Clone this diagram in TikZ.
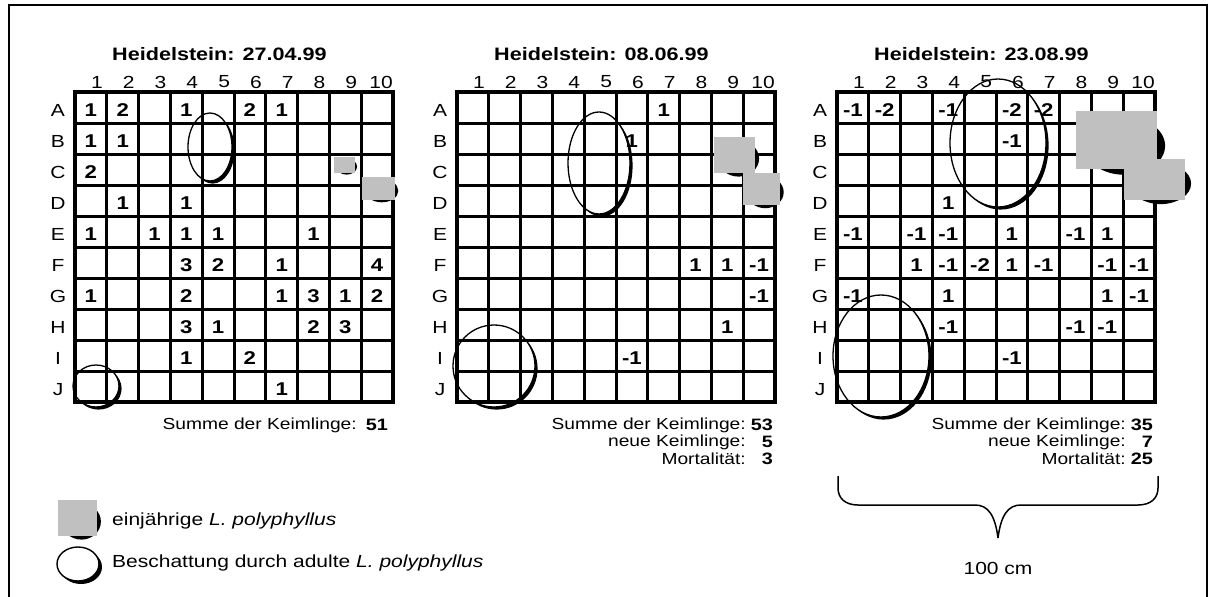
\documentclass[tikz,border=0pt]{standalone}
\usepackage{fontspec}
\setmainfont{Liberation Sans}[FakeStretch=1.2]
\definecolor{seedgray}{RGB}{192,192,192}
\newcommand\adultring[4]{%
  \begin{scope}[even odd rule]
    \clip (#1,#2) ellipse[x radius=#3,y radius=#4] (-10,-10) rectangle (1230,610);
    \fill ({#1+2.6},{#2+2.6}) ellipse[x radius=#3,y radius=#4];
  \end{scope}
  \draw[line width=1.3] (#1,#2) ellipse[x radius=#3,y radius=#4];}
\newcommand\seedling[4]{%
  \fill ({(#1+#3)/2+0.1*(#3-#1)},{(#2+#4)/2+0.1*(#4-#2)}) ellipse[x radius={0.5*(#3-#1)},y radius={0.5*(#4-#2)}];
  \fill[seedgray] (#1,#2) rectangle (#3,#4);}
\begin{document}
\begin{tikzpicture}[x=1pt,y=-1pt,
  gridin/.style={line width=3},
  gridout/.style={line width=4.5},
  lbl/.style={font=\fontsize{17.5}{19}\selectfont, inner sep=0pt},
  collbl/.style={font=\fontsize{17.5}{19}\selectfont, inner sep=0pt},
  num/.style={font=\bfseries\fontsize{18.5}{20}\selectfont, inner sep=0pt},
  ttl/.style={font=\bfseries\fontsize{18}{20}\selectfont, inner sep=0pt, anchor=west},
  sumlbl/.style={font=\fontsize{16}{18}\selectfont, inner sep=0pt, anchor=east},
  sumnum/.style={font=\bfseries\fontsize{16.5}{18}\selectfont, inner sep=0pt, anchor=east}]
\useasboundingbox (0,0) rectangle (1216,597);
\draw[line width=1.5] (9,597) -- (9,5) -- (1207,5) -- (1207,597);

\foreach \g/\gx/\dd in {1/75/27.04.99, 2/457/08.06.99, 3/837/23.08.99} {
  \foreach \i in {1,...,9} {
    \draw[gridin] ({\gx+31.8*\i},92) -- ({\gx+31.8*\i},402);
    \draw[gridin] (\gx,{92+31*\i}) -- ({\gx+318},{92+31*\i});
  }
  \draw[gridout] (\gx,92) rectangle ({\gx+318},402);
  \node[ttl] (title\g) at ({\gx+37},54) {Heidelstein: \dd};
  \foreach \c in {1,...,9} \node[collbl] (col\g-\c) at ({\gx+31.8*(\c-0.5)+6},82) {\c};
  \node[collbl] (col\g-10) at ({\gx+31.8*9.5+4},82) {10};
  \foreach \r/\L in {1/A,2/B,3/C,4/D,5/E,6/F,7/G,8/H,9/I,10/J}
    \node[lbl] (row\g-\L) at ({\gx-17},{92+31*(\r-0.5)+3}) {\L};
}

% grid 1 numbers
\foreach \c/\r/\t in {1/1/1, 2/1/2, 4/1/1, 6/1/2, 7/1/1,
  1/2/1, 2/2/1, 1/3/2, 2/4/1, 4/4/1,
  1/5/1, 3/5/1, 4/5/1, 5/5/1, 8/5/1,
  4/6/3, 5/6/2, 7/6/1, 10/6/4,
  1/7/1, 4/7/2, 7/7/1, 8/7/3, 9/7/1, 10/7/2,
  4/8/3, 5/8/1, 8/8/2, 9/8/3,
  4/9/1, 6/9/2, 7/10/1}
  \node[num] (a\c-\r) at ({75+31.8*(\c-0.5)},{92+31*(\r-0.5)+3}) {\t};
% grid 2 numbers
\foreach \c/\r/\t in {7/1/1, 6/2/1, 8/6/1, 9/6/1, 10/6/-1, 10/7/-1, 9/8/1, 6/9/-1}
  \node[num] (b\c-\r) at ({457+31.8*(\c-0.5)},{92+31*(\r-0.5)+3}) {\t};
% grid 3 numbers
\foreach \c/\r/\t in {1/1/-1, 2/1/-2, 4/1/-1, 6/1/-2, 7/1/-2,
  6/2/-1, 4/4/1,
  1/5/-1, 3/5/-1, 4/5/-1, 6/5/1, 8/5/-1, 9/5/1,
  3/6/1, 4/6/-1, 5/6/-2, 6/6/1, 7/6/-1, 9/6/-1, 10/6/-1,
  1/7/-1, 4/7/1, 9/7/1, 10/7/-1,
  4/8/-1, 8/8/-1, 9/8/-1, 6/9/-1}
  \node[num] (c\c-\r) at ({837+31.8*(\c-0.5)},{92+31*(\r-0.5)+3}) {\t};

% shading by adult plants
\adultring{210}{147}{22}{34}
\adultring{96}{386}{23}{21}
\adultring{599}{163}{31}{51}
\adultring{494}{366}{41}{41}
\adultring{998}{143}{48}{64}
\adultring{881}{356}{48}{61}

% one-year seedlings
\seedling{334}{157}{355}{173}
\seedling{362}{177}{395}{200}
\seedling{714}{137}{755}{173}
\seedling{743}{173}{780}{205}
\seedling{1076}{111}{1157}{169}
\seedling{1124}{159}{1185}{200}

% sums
\node[sumlbl] (s1) at (357,425) {Summe der Keimlinge:};
\node[sumnum] (s1n) at (388,425) {51};
\foreach \g/\gx/\a/\b/\m in {2/457/53/5/3, 3/837/35/7/25} {
  \node[sumlbl] (s\g) at ({\gx+289},425) {Summe der Keimlinge:};
  \node[sumnum] (s\g n) at ({\gx+316},425) {\a};
  \node[sumlbl] (k\g) at ({\gx+289},442) {neue Keimlinge:};
  \node[sumnum] (k\g n) at ({\gx+316},442) {\b};
  \node[sumlbl] (m\g) at ({\gx+289},459) {Mortalität:};
  \node[sumnum] (m\g n) at ({\gx+316},459) {\m};
}

% brace
\coordinate (bl) at (838,476);
\coordinate (br) at (1158,476);
\coordinate (tip) at (998,538);
\draw[line width=1.5] (bl) -- (838,488) .. controls (838,498) and (845,505) .. (858,505) -- (975,505) .. controls (988,505) and (995,515) .. (tip);
\draw[line width=1.5] (br) -- (1158,488) .. controls (1158,498) and (1151,505) .. (1138,505) -- (1021,505) .. controls (1008,505) and (1001,515) .. (tip);
\node[lbl] (cm) at (998,568) {100 cm};

% legend
\seedling{58}{500}{97}{536}
\begin{scope}
  \fill (81,567) ellipse[x radius=21,y radius=17];
  \filldraw[fill=white, line width=1.4] (78,564) ellipse[x radius=21,y radius=17];
\end{scope}
\node[lbl, anchor=west] (leg1) at (112,521) {einjährige \textit{L. polyphyllus}};
\node[lbl, anchor=west] (leg2) at (112,563) {Beschattung durch adulte \textit{L. polyphyllus}};
\end{tikzpicture}
\end{document}
